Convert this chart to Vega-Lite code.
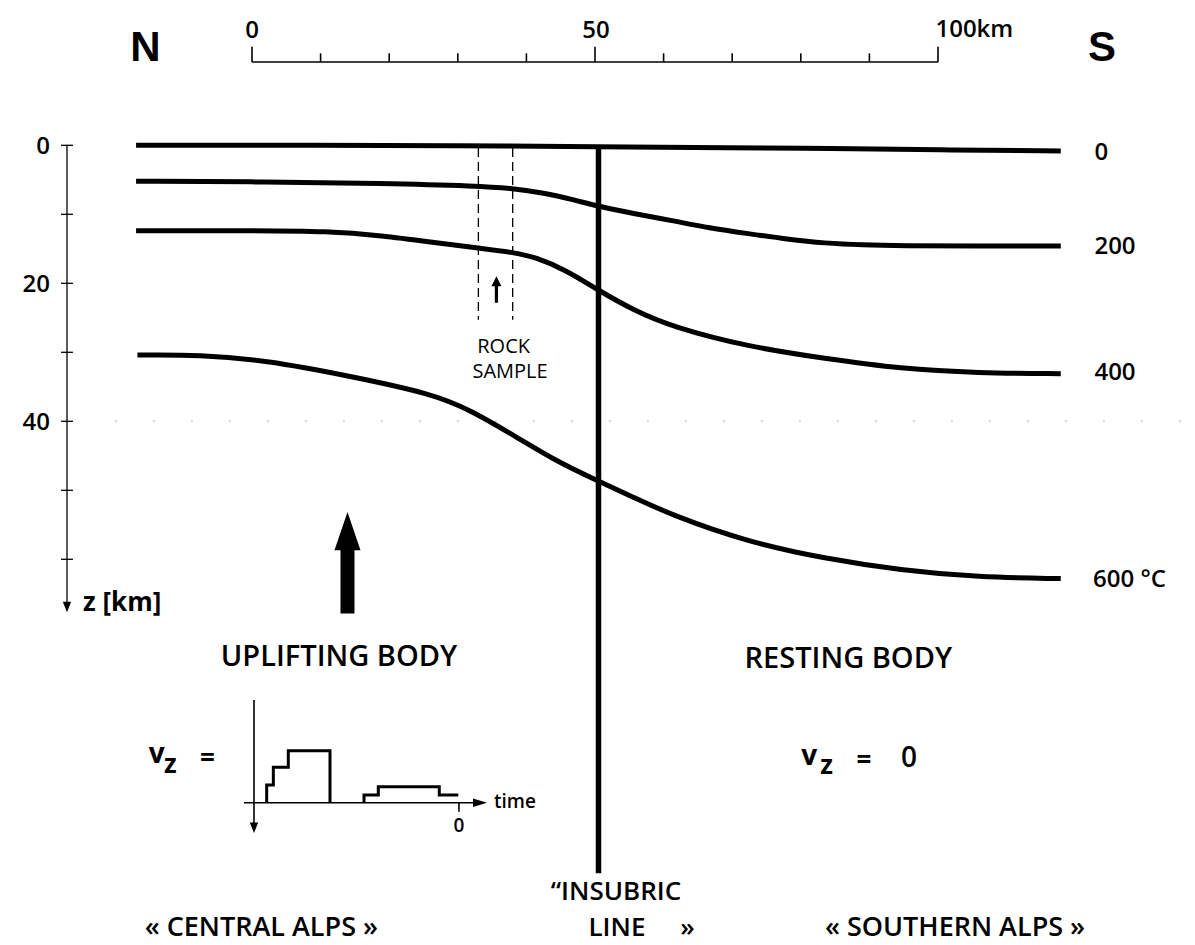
{
  "$schema": "https://vega.github.io/schema/vega-lite/v6.json",
  "width": 1195,
  "height": 945,
  "autosize": {"type": "fit", "contains": "padding"},
  "padding": 0,
  "background": "white",
  "config": {"view": {"stroke": null}, "font": "Open Sans"},
  "datasets": {
    "iso": [
      {"iso": "0", "x": -16.9, "z": 0}, {"iso": "0", "x": 10, "z": 0}, {"iso": "0", "x": 30, "z": 0.05}, {"iso": "0", "x": 50.3, "z": 0.2}, {"iso": "0", "x": 70, "z": 0.35}, {"iso": "0", "x": 84, "z": 0.45}, {"iso": "0", "x": 100, "z": 0.65}, {"iso": "0", "x": 117.9, "z": 0.83},
      {"iso": "200", "x": -16.9, "z": 5.2}, {"iso": "200", "x": 2.3, "z": 5.3}, {"iso": "200", "x": 19.05, "z": 5.5}, {"iso": "200", "x": 33.0, "z": 5.9}, {"iso": "200", "x": 38.0, "z": 6.25}, {"iso": "200", "x": 42.5, "z": 6.9}, {"iso": "200", "x": 46.9, "z": 7.9}, {"iso": "200", "x": 50.3, "z": 8.8}, {"iso": "200", "x": 55.6, "z": 9.9}, {"iso": "200", "x": 61.2, "z": 10.9}, {"iso": "200", "x": 66.7, "z": 12.0}, {"iso": "200", "x": 72.3, "z": 12.8}, {"iso": "200", "x": 78, "z": 13.6}, {"iso": "200", "x": 83.5, "z": 14.2}, {"iso": "200", "x": 89, "z": 14.45}, {"iso": "200", "x": 94.6, "z": 14.55}, {"iso": "200", "x": 105.8, "z": 14.6}, {"iso": "200", "x": 117.9, "z": 14.6},
      {"iso": "400", "x": -16.9, "z": 12.4}, {"iso": "400", "x": 0, "z": 12.35}, {"iso": "400", "x": 11.1, "z": 12.45}, {"iso": "400", "x": 19, "z": 13.1}, {"iso": "400", "x": 26, "z": 14.0}, {"iso": "400", "x": 33, "z": 14.9}, {"iso": "400", "x": 38, "z": 15.5}, {"iso": "400", "x": 41.3, "z": 16.2}, {"iso": "400", "x": 45.8, "z": 18.1}, {"iso": "400", "x": 50.3, "z": 20.9}, {"iso": "400", "x": 55.6, "z": 23.9}, {"iso": "400", "x": 61.2, "z": 26.3}, {"iso": "400", "x": 72.3, "z": 29.2}, {"iso": "400", "x": 83.5, "z": 30.9}, {"iso": "400", "x": 94.6, "z": 32.4}, {"iso": "400", "x": 105.8, "z": 33.0}, {"iso": "400", "x": 117.9, "z": 33.1},
      {"iso": "600", "x": -16.7, "z": 30.4}, {"iso": "600", "x": -7.7, "z": 30.35}, {"iso": "600", "x": 2.3, "z": 31.2}, {"iso": "600", "x": 13.5, "z": 33.3}, {"iso": "600", "x": 26.3, "z": 36.0}, {"iso": "600", "x": 31.9, "z": 38.4}, {"iso": "600", "x": 38.6, "z": 42.3}, {"iso": "600", "x": 44.2, "z": 45.7}, {"iso": "600", "x": 50.3, "z": 48.6}, {"iso": "600", "x": 55.6, "z": 51.0}, {"iso": "600", "x": 61.2, "z": 53.6}, {"iso": "600", "x": 72.3, "z": 57.5}, {"iso": "600", "x": 83.5, "z": 59.9}, {"iso": "600", "x": 94.6, "z": 61.6}, {"iso": "600", "x": 105.8, "z": 62.6}, {"iso": "600", "x": 117.9, "z": 62.8}
    ],
    "steps": [
      {"seg": "A", "ord": 1, "x": 2.14, "z": 95.28}, {"seg": "A", "ord": 2, "x": 2.14, "z": 92.71}, {"seg": "A", "ord": 3, "x": 3.11, "z": 92.71}, {"seg": "A", "ord": 4, "x": 3.11, "z": 90.14}, {"seg": "A", "ord": 5, "x": 5.29, "z": 90.14}, {"seg": "A", "ord": 6, "x": 5.29, "z": 87.74}, {"seg": "A", "ord": 7, "x": 11.37, "z": 87.74}, {"seg": "A", "ord": 8, "x": 11.37, "z": 95.28},
      {"seg": "B", "ord": 1, "x": 16.33, "z": 95.28}, {"seg": "B", "ord": 2, "x": 16.33, "z": 94.16}, {"seg": "B", "ord": 3, "x": 18.41, "z": 94.16}, {"seg": "B", "ord": 4, "x": 18.41, "z": 92.96}, {"seg": "B", "ord": 5, "x": 27.3, "z": 92.96}, {"seg": "B", "ord": 6, "x": 27.3, "z": 94.16}, {"seg": "B", "ord": 7, "x": 30.07, "z": 94.16}
    ],
    "rules": [
      {"kind": "grid", "x": -20, "x2": 136, "z": 40, "z2": 40},
      {"kind": "bar", "x": 0, "x2": 100, "z": -12.07, "z2": -12.07},
      {"kind": "bar", "x": 0, "x2": 0, "z": -14.29, "z2": -12.07},
      {"kind": "bar", "x": 50, "x2": 50, "z": -14.29, "z2": -12.07},
      {"kind": "bar", "x": 100, "x2": 100, "z": -14.29, "z2": -12.07},
      {"kind": "bar", "x": 10, "x2": 10, "z": -13.33, "z2": -12.07},
      {"kind": "bar", "x": 20, "x2": 20, "z": -13.33, "z2": -12.07},
      {"kind": "bar", "x": 30, "x2": 30, "z": -13.33, "z2": -12.07},
      {"kind": "bar", "x": 40, "x2": 40, "z": -13.33, "z2": -12.07},
      {"kind": "bar", "x": 60, "x2": 60, "z": -13.33, "z2": -12.07},
      {"kind": "bar", "x": 70, "x2": 70, "z": -13.33, "z2": -12.07},
      {"kind": "bar", "x": 80, "x2": 80, "z": -13.33, "z2": -12.07},
      {"kind": "bar", "x": 90, "x2": 90, "z": -13.33, "z2": -12.07},
      {"kind": "axis", "x": -26.97, "x2": -26.97, "z": 0, "z2": 66.3},
      {"kind": "axis", "x": -27.84, "x2": -26.1, "z": 0, "z2": 0},
      {"kind": "axis", "x": -27.84, "x2": -26.1, "z": 10, "z2": 10},
      {"kind": "axis", "x": -27.84, "x2": -26.1, "z": 20, "z2": 20},
      {"kind": "axis", "x": -27.84, "x2": -26.1, "z": 30, "z2": 30},
      {"kind": "axis", "x": -27.84, "x2": -26.1, "z": 40, "z2": 40},
      {"kind": "axis", "x": -27.84, "x2": -26.1, "z": 50, "z2": 50},
      {"kind": "axis", "x": -27.84, "x2": -26.1, "z": 60, "z2": 60},
      {"kind": "insubric", "x": 50.51, "x2": 50.51, "z": 0, "z2": 105.5},
      {"kind": "dash", "x": 33.0, "x2": 33.0, "z": 0.4, "z2": 25.3},
      {"kind": "dash", "x": 38.0, "x2": 38.0, "z": 0.4, "z2": 25.3},
      {"kind": "mini", "x": 0.29, "x2": 0.29, "z": 80.39, "z2": 98.3},
      {"kind": "mini", "x": -1.17, "x2": 32.5, "z": 95.28, "z2": 95.28},
      {"kind": "mini", "x": 30.17, "x2": 30.17, "z": 95.28, "z2": 96.58}
    ],
    "arrows": [
      {"kind": "big", "x": 13.92, "z": 60.51},
      {"kind": "small", "x": 35.63, "z": 20.9},
      {"kind": "down", "x": -26.97, "z": 66.9},
      {"kind": "down", "x": 0.29, "z": 98.9},
      {"kind": "right", "x": 33.24, "z": 95.28}
    ],
    "labels": [
      {"kind": "dir", "text": "N", "x": -15.52, "z": -14.14},
      {"kind": "dir", "text": "S", "x": 123.91, "z": -14.1},
      {"kind": "scale", "text": "0", "x": 0, "z": -16.5},
      {"kind": "scale", "text": "50", "x": 50.15, "z": -16.5},
      {"kind": "scale", "text": "100km", "x": 105.3, "z": -16.7},
      {"kind": "depth", "text": "0", "x": -29.45, "z": 0.2},
      {"kind": "depth", "text": "20", "x": -29.45, "z": 20.2},
      {"kind": "depth", "text": "40", "x": -29.45, "z": 40.3},
      {"kind": "iso", "text": "0", "x": 122.8, "z": 1.1},
      {"kind": "iso", "text": "200", "x": 122.8, "z": 14.75},
      {"kind": "iso", "text": "400", "x": 122.8, "z": 33.0},
      {"kind": "iso", "text": "600 °C", "x": 122.6, "z": 63.05},
      {"kind": "zlab", "text": "z [km]", "x": -24.64, "z": 66.35},
      {"kind": "big", "text": "UPLIFTING BODY", "x": 12.68, "z": 74.1},
      {"kind": "big", "text": "RESTING BODY", "x": 86.93, "z": 74.4},
      {"kind": "bottom", "text": "« CENTRAL ALPS »", "x": 1.36, "z": 113.4},
      {"kind": "bottom", "text": "« SOUTHERN ALPS »", "x": 102.48, "z": 113.4},
      {"kind": "insub", "text": "“INSUBRIC", "x": 53.06, "z": 108.2},
      {"kind": "insub", "text": "LINE", "x": 53.2, "z": 113.4},
      {"kind": "insub", "text": "»", "x": 63.48, "z": 113.4},
      {"kind": "small", "text": "ROCK", "x": 36.68, "z": 29.2},
      {"kind": "small", "text": "SAMPLE", "x": 37.61, "z": 32.9},
      {"kind": "v", "text": "v", "x": -13.9, "z": 88.4},
      {"kind": "sub", "text": "z", "x": -11.9, "z": 89.8},
      {"kind": "eq", "text": "=", "x": -6.49, "z": 89.0},
      {"kind": "v", "text": "v", "x": 81.24, "z": 88.6},
      {"kind": "sub", "text": "z", "x": 83.75, "z": 90.0},
      {"kind": "eq", "text": "=", "x": 89.21, "z": 89.3},
      {"kind": "vzero", "text": "0", "x": 95.77, "z": 89.0},
      {"kind": "mini0", "text": "0", "x": 30.17, "z": 98.6},
      {"kind": "time", "text": "time", "x": 35.28, "z": 95.2}
    ]
  },
  "encoding": {
    "x": {"field": "x", "type": "quantitative", "scale": {"domain": [-36.735, 137.464], "nice": false, "zero": false}, "axis": null},
    "y": {"field": "z", "type": "quantitative", "scale": {"domain": [-21.058, 115.899], "nice": false, "zero": false, "reverse": true}, "axis": null}
  },
  "layer": [
    {"data": {"name": "rules"}, "transform": [{"filter": "datum.kind === 'grid'"}], "mark": {"type": "rule", "color": "#d4d4d4", "strokeWidth": 2, "strokeDash": [2, 36]}, "encoding": {"x2": {"field": "x2"}, "y2": {"field": "z2"}}},
    {"data": {"name": "iso"}, "mark": {"type": "line", "color": "black", "strokeWidth": 5, "interpolate": "basis", "strokeCap": "butt"}, "encoding": {"detail": {"field": "iso"}}},
    {"data": {"name": "rules"}, "transform": [{"filter": "datum.kind === 'insubric'"}], "mark": {"type": "rule", "color": "black", "strokeWidth": 5.5}, "encoding": {"x2": {"field": "x2"}, "y2": {"field": "z2"}}},
    {"data": {"name": "rules"}, "transform": [{"filter": "datum.kind === 'bar' || datum.kind === 'mini'"}], "mark": {"type": "rule", "color": "black", "strokeWidth": 1.6}, "encoding": {"x2": {"field": "x2"}, "y2": {"field": "z2"}}},
    {"data": {"name": "rules"}, "transform": [{"filter": "datum.kind === 'axis'"}], "mark": {"type": "rule", "color": "black", "strokeWidth": 1.3}, "encoding": {"x2": {"field": "x2"}, "y2": {"field": "z2"}}},
    {"data": {"name": "rules"}, "transform": [{"filter": "datum.kind === 'dash'"}], "mark": {"type": "rule", "color": "black", "strokeWidth": 1.3, "strokeDash": [9, 5]}, "encoding": {"x2": {"field": "x2"}, "y2": {"field": "z2"}}},
    {"data": {"name": "steps"}, "mark": {"type": "line", "color": "black", "strokeWidth": 3, "strokeJoin": "miter", "strokeCap": "butt"}, "encoding": {"detail": {"field": "seg"}, "order": {"field": "ord", "type": "quantitative"}}},
    {"data": {"name": "arrows"}, "transform": [{"filter": "datum.kind === 'big'"}], "mark": {"type": "point", "filled": true, "color": "black", "opacity": 1, "size": 10323, "shape": "M0,-1L0.256,-0.246L0.138,-0.246L0.138,1L-0.138,1L-0.138,-0.246L-0.256,-0.246Z"}},
    {"data": {"name": "arrows"}, "transform": [{"filter": "datum.kind === 'small'"}], "mark": {"type": "point", "filled": true, "color": "black", "opacity": 1, "size": 713, "shape": "M0,-1L0.375,-0.25L0.12,-0.25L0.12,1L-0.12,1L-0.12,-0.25L-0.375,-0.25Z"}},
    {"data": {"name": "arrows"}, "transform": [{"filter": "datum.kind === 'down'"}], "mark": {"type": "point", "filled": true, "color": "black", "opacity": 1, "size": 110, "shape": "M-0.8,-1L0.8,-1L0,1Z"}},
    {"data": {"name": "arrows"}, "transform": [{"filter": "datum.kind === 'right'"}], "mark": {"type": "point", "filled": true, "color": "black", "opacity": 1, "size": 196, "shape": "M-1,-0.6L1,0L-1,0.6Z"}},
    {"data": {"name": "labels"}, "transform": [{"filter": "datum.kind === 'dir'"}], "mark": {"type": "text", "font": "Liberation Sans", "fontWeight": "bold", "fontSize": 42, "align": "center", "baseline": "middle", "color": "black"}, "encoding": {"text": {"field": "text"}}},
    {"data": {"name": "labels"}, "transform": [{"filter": "datum.kind === 'scale'"}], "mark": {"type": "text", "fontSize": 24, "fontWeight": 600, "align": "center", "baseline": "middle", "color": "black"}, "encoding": {"text": {"field": "text"}}},
    {"data": {"name": "labels"}, "transform": [{"filter": "datum.kind === 'depth'"}], "mark": {"type": "text", "fontSize": 24, "fontWeight": 600, "align": "right", "baseline": "middle", "color": "black"}, "encoding": {"text": {"field": "text"}}},
    {"data": {"name": "labels"}, "transform": [{"filter": "datum.kind === 'iso'"}], "mark": {"type": "text", "fontSize": 24, "fontWeight": 600, "align": "left", "baseline": "middle", "color": "black"}, "encoding": {"text": {"field": "text"}}},
    {"data": {"name": "labels"}, "transform": [{"filter": "datum.kind === 'zlab'"}], "mark": {"type": "text", "fontSize": 26, "fontWeight": "bold", "align": "left", "baseline": "middle", "color": "black"}, "encoding": {"text": {"field": "text"}}},
    {"data": {"name": "labels"}, "transform": [{"filter": "datum.kind === 'big'"}], "mark": {"type": "text", "fontSize": 29, "fontWeight": 600, "align": "center", "baseline": "middle", "color": "black"}, "encoding": {"text": {"field": "text"}}},
    {"data": {"name": "labels"}, "transform": [{"filter": "datum.kind === 'bottom'"}], "mark": {"type": "text", "fontSize": 27, "fontWeight": 600, "align": "center", "baseline": "middle", "color": "black"}, "encoding": {"text": {"field": "text"}}},
    {"data": {"name": "labels"}, "transform": [{"filter": "datum.kind === 'insub'"}], "mark": {"type": "text", "fontSize": 26, "fontWeight": 600, "align": "center", "baseline": "middle", "color": "black"}, "encoding": {"text": {"field": "text"}}},
    {"data": {"name": "labels"}, "transform": [{"filter": "datum.kind === 'small'"}], "mark": {"type": "text", "fontSize": 20, "align": "center", "baseline": "middle", "color": "black"}, "encoding": {"text": {"field": "text"}}},
    {"data": {"name": "labels"}, "transform": [{"filter": "datum.kind === 'v'"}], "mark": {"type": "text", "fontSize": 28, "fontWeight": "bold", "align": "center", "baseline": "middle", "color": "black"}, "encoding": {"text": {"field": "text"}}},
    {"data": {"name": "labels"}, "transform": [{"filter": "datum.kind === 'sub'"}], "mark": {"type": "text", "fontSize": 26, "fontWeight": "bold", "align": "center", "baseline": "middle", "color": "black"}, "encoding": {"text": {"field": "text"}}},
    {"data": {"name": "labels"}, "transform": [{"filter": "datum.kind === 'eq'"}], "mark": {"type": "text", "fontSize": 26, "fontWeight": "bold", "align": "center", "baseline": "middle", "color": "black"}, "encoding": {"text": {"field": "text"}}},
    {"data": {"name": "labels"}, "transform": [{"filter": "datum.kind === 'vzero'"}], "mark": {"type": "text", "fontSize": 28, "fontWeight": 600, "align": "center", "baseline": "middle", "color": "black"}, "encoding": {"text": {"field": "text"}}},
    {"data": {"name": "labels"}, "transform": [{"filter": "datum.kind === 'mini0'"}], "mark": {"type": "text", "fontSize": 19, "fontWeight": 600, "align": "center", "baseline": "middle", "color": "black"}, "encoding": {"text": {"field": "text"}}},
    {"data": {"name": "labels"}, "transform": [{"filter": "datum.kind === 'time'"}], "mark": {"type": "text", "fontSize": 19, "fontWeight": 600, "align": "left", "baseline": "middle", "color": "black"}, "encoding": {"text": {"field": "text"}}}
  ]
}
